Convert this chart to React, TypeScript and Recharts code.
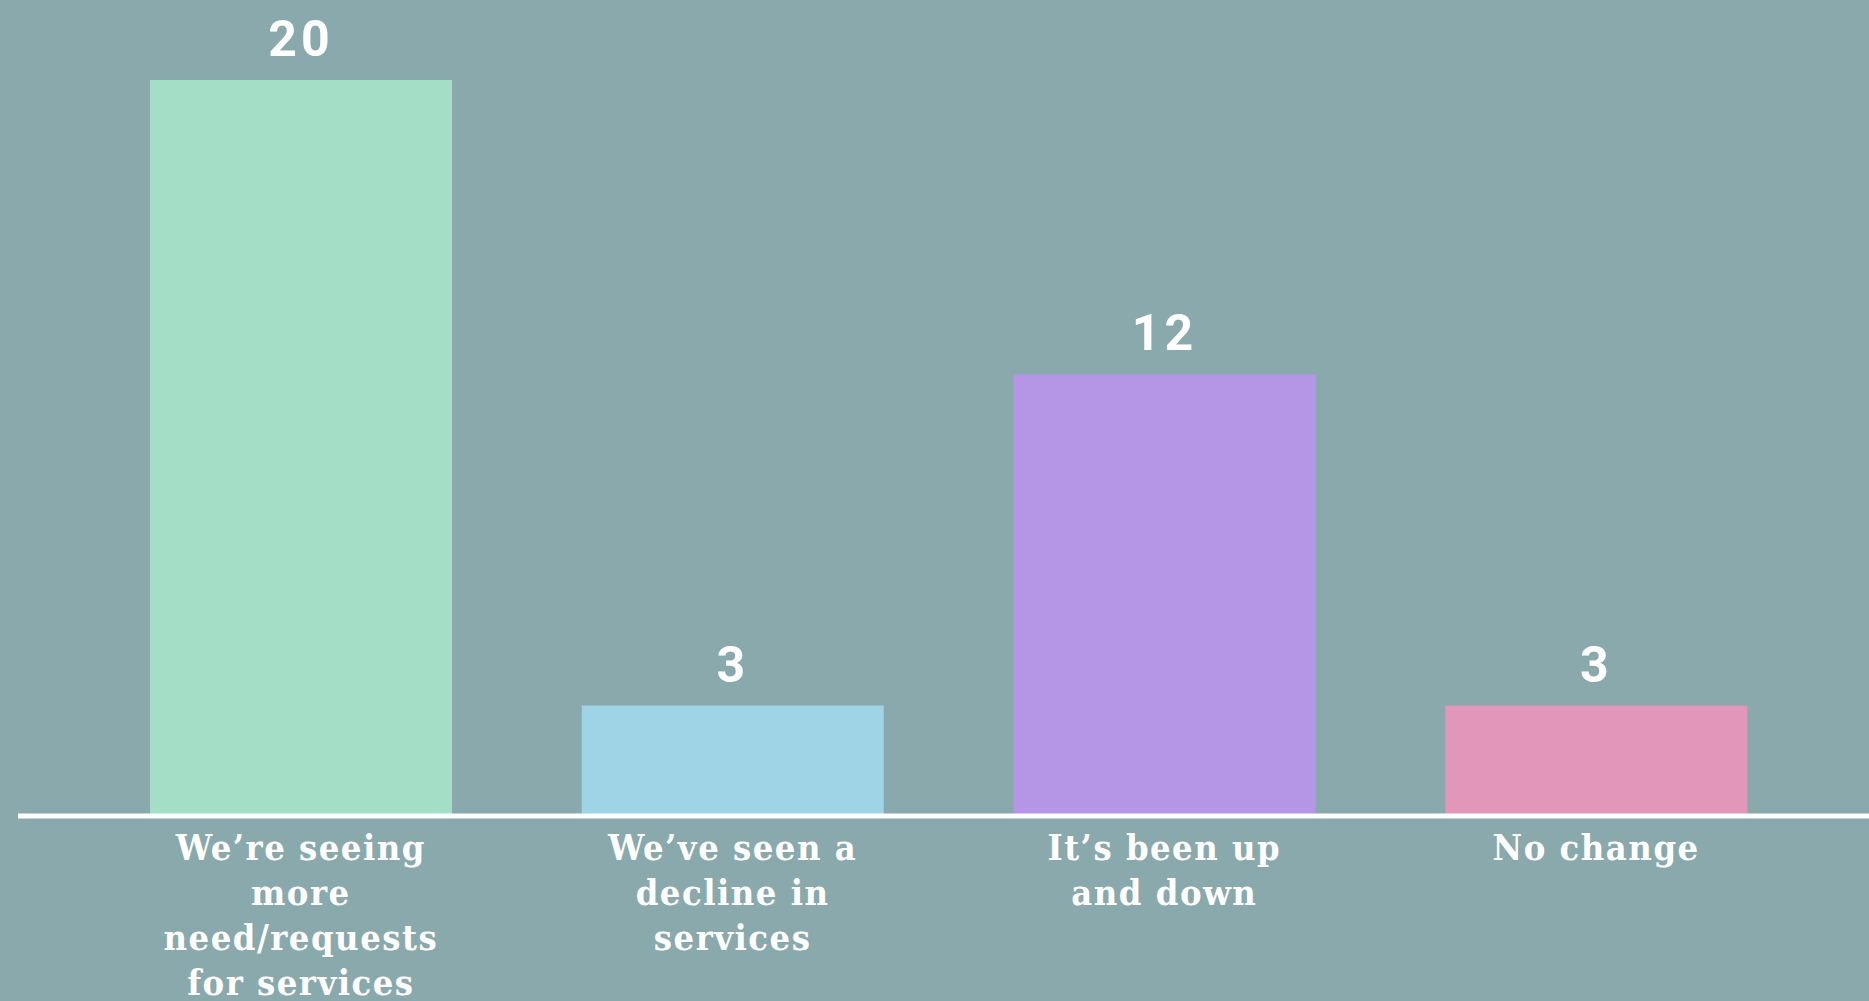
import { BarChart, Bar, XAxis, YAxis, Cell, LabelList } from 'recharts';

const categories = [
  "We're seeing more need/requests for services",
  "We've seen a decline in services",
  "It's been up and down",
  'No change',
];
const tickLines = [
  ["We\u2019re seeing", 'more', 'need/requests', 'for services'],
  ["We\u2019ve seen a", 'decline in', 'services'],
  ["It\u2019s been up", 'and down'],
  ['No change'],
];
const responses = [20, 3, 12, 3];
const barColors = ['#a5dec6', '#9fd3e6', '#b595e6', '#e196ba'];

const data = categories.map((name, i) => ({ name, value: responses[i] }));

const WrappedTick = (props: any) => {
  const { x, y, index } = props;
  const lines = tickLines[index] || [];
  return (
    <text
      x={x}
      y={y}
      textAnchor="middle"
      fill="#ffffff"
      fontFamily="'DejaVu Serif Condensed', 'DejaVu Serif', serif"
      fontWeight="bold"
      fontSize={36}
      letterSpacing={1.5}
    >
      {lines.map((line, i) => (
        <tspan key={i} x={x} dy={i === 0 ? 36 : 45}>
          {line}
        </tspan>
      ))}
    </text>
  );
};

export default function App() {
  return (
    <div style={{ position: 'absolute', left: 0, top: 0, width: 1869, height: 1001, background: '#89a9ad' }}>
      <BarChart
        width={1869}
        height={1001}
        data={data}
        margin={{ top: 80, right: 0, bottom: 0, left: 18 }}
        barSize={302}
      >
        <XAxis
          dataKey="name"
          height={185}
          tickLine={false}
          axisLine={{ stroke: '#ffffff', strokeWidth: 5 }}
          padding={{ left: 67, right: 57 }}
          interval={0}
          tick={<WrappedTick />}
        />
        <YAxis hide domain={[0, 20]} />
        <Bar dataKey="value" isAnimationActive={false}>
          {data.map((d, i) => (
            <Cell key={d.name} fill={barColors[i]} />
          ))}
          <LabelList
            dataKey="value"
            position="top"
            offset={24}
            fill="#ffffff"
            fontFamily="Roboto, 'Open Sans', sans-serif"
            fontWeight="bold"
            fontSize={50}
            letterSpacing={4}
          />
        </Bar>
      </BarChart>
    </div>
  );
}
